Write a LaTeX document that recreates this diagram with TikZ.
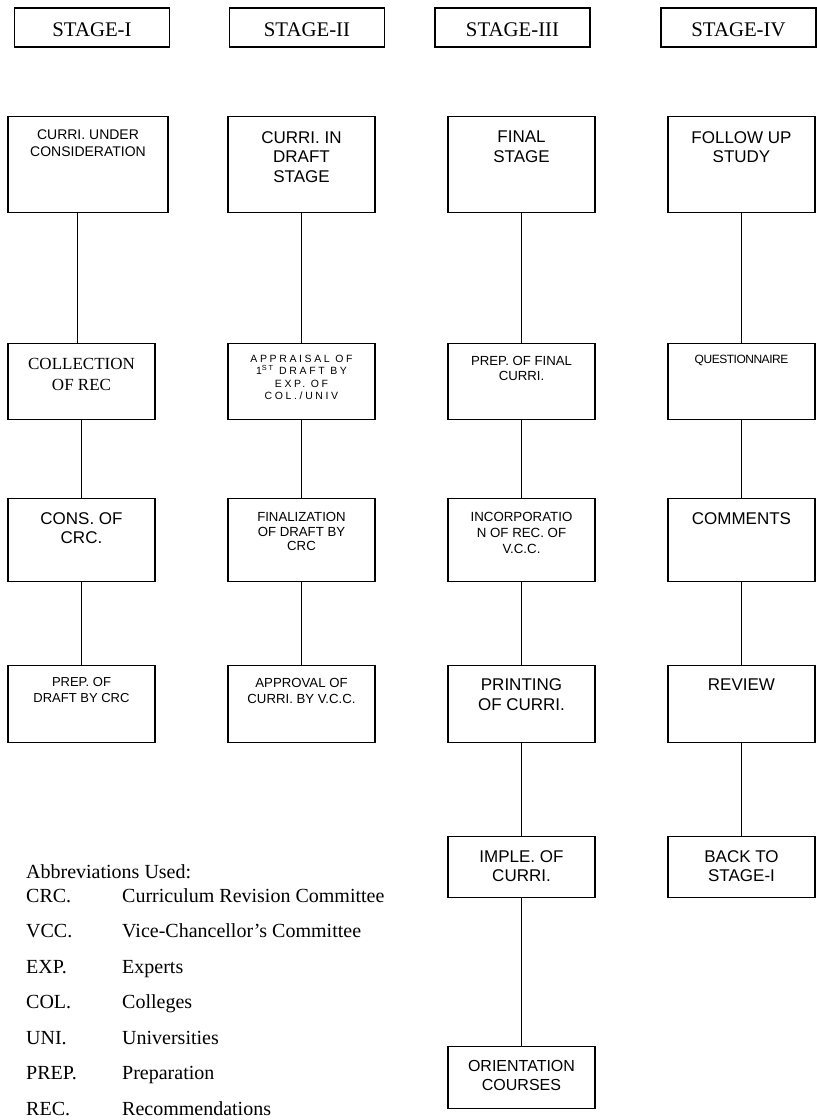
\documentclass[tikz,border=0pt]{standalone}
\usepackage{fontspec}
\setmainfont{Liberation Serif}
\setsansfont{Liberation Sans}
\usetikzlibrary{positioning}

\newcommand{\boxfont}[2]{\sffamily\fontsize{#1}{#2}\selectfont}

\tikzset{
  stage/.style={draw, line width=1.2pt, minimum width=155pt, minimum height=39pt,
    inner sep=0pt, text height=17pt, text depth=0pt, font=\fontsize{20.8}{23}\selectfont},
  box/.style={draw, line width=1.2pt, minimum width=147pt, inner sep=0pt, anchor=north},
  txt/.style={inner sep=0pt, align=center},
  link/.style={line width=1pt},
  abbr/.style={inner sep=0pt, anchor=base west, font=\fontsize{20}{24}\selectfont}
}

\begin{document}
\begin{tikzpicture}[x=1pt, y=-1pt]
    \useasboundingbox (0,0) rectangle (817,1120);

    % Stage headings
    \foreach \x/\n [count=\i] in {92/I, 307/II, 512.5/III, 738.5/IV}
        \node[stage] (stg\i) at (\x,27.5) {STAGE-\n};

    % Stage I column
    \node[box, minimum width=160pt, minimum height=96pt] (a1) at (88,116) {};
    \node[box, minimum height=76pt] (a2) at (81.5,343) {};
    \node[box, minimum height=83pt] (a3) at (81.5,498) {};
    \node[box, minimum height=77pt] (a4) at (81.5,665) {};
    \node[txt, font=\boxfont{14}{17}, below=14pt of a1.north] (a1t) {CURRI. UNDER\\CONSIDERATION};
    \node[txt, font=\rmfamily\fontsize{17}{21}\selectfont, below=14.7pt of a2.north] (a2t) {COLLECTION\\OF REC};
    \node[txt, font=\boxfont{17}{18.5}, below=14.8pt of a3.north] (a3t) {CONS. OF\\CRC.};
    \node[txt, font=\boxfont{13}{16}, below=12.6pt of a4.north] (a4t) {PREP. OF\\DRAFT BY CRC};

    % Stage II column
    \node[box, minimum height=96pt] (b1) at (301.5,116) {};
    \node[box, minimum height=76pt] (b2) at (301.5,343) {};
    \node[box, minimum height=83pt] (b3) at (301.5,498) {};
    \node[box, minimum height=77pt] (b4) at (301.5,665) {};
    \node[txt, font=\boxfont{17}{19.5}, below=15pt of b1.north] (b1t) {CURRI. IN\\DRAFT\\STAGE};
    \node[txt, font=\boxfont{10.5}{12.5}\addfontfeatures{LetterSpace=25}, below=11.5pt of b2.north] (b2t)
        {APPRAISAL OF\\1\textsuperscript{ST} DRAFT BY\\EXP. OF\\COL./UNIV};
    \node[txt, font=\boxfont{13.2}{14.5}, below=14.5pt of b3.north] (b3t) {FINALIZATION\\OF DRAFT BY\\CRC};
    \node[txt, font=\boxfont{13.2}{16}, below=12.6pt of b4.north] (b4t) {APPROVAL OF\\CURRI. BY V.C.C.};

    % Stage III column
    \node[box, minimum height=96pt] (c1) at (521.5,116) {};
    \node[box, minimum height=76pt] (c2) at (521.5,343) {};
    \node[box, minimum height=83pt] (c3) at (521.5,498) {};
    \node[box, minimum height=77pt] (c4) at (521.5,665) {};
    \node[box, minimum height=61pt] (c5) at (521.5,836) {};
    \node[box, minimum height=62pt] (c6) at (521.5,1046) {};
    \node[txt, font=\boxfont{17}{19.5}, below=15pt of c1.north] (c1t) {FINAL\\STAGE};
    \node[txt, font=\boxfont{13.2}{15}, below=12.7pt of c2.north] (c2t) {PREP. OF FINAL\\CURRI.};
    \node[txt, font=\boxfont{13.3}{16}, below=13.7pt of c3.north] (c3t) {INCORPORATIO\\N OF REC. OF\\V.C.C.};
    \node[txt, font=\boxfont{17}{20}, below=13.8pt of c4.north] (c4t) {PRINTING\\OF CURRI.};
    \node[txt, font=\boxfont{17}{19}, below=14.8pt of c5.north] (c5t) {IMPLE. OF\\CURRI.};
    \node[txt, font=\boxfont{16}{19}, below=14.5pt of c6.north] (c6t) {ORIENTATION\\COURSES};

    % Stage IV column
    \node[box, minimum height=96pt] (d1) at (741.5,116) {};
    \node[box, minimum height=76pt] (d2) at (741.5,343) {};
    \node[box, minimum height=83pt] (d3) at (741.5,498) {};
    \node[box, minimum height=77pt] (d4) at (741.5,665) {};
    \node[box, minimum height=61pt] (d5) at (741.5,836) {};
    \node[txt, font=\boxfont{17}{19.5}, below=15pt of d1.north] (d1t) {FOLLOW UP\\STUDY};
    \node[txt, font=\boxfont{12}{14}\addfontfeatures{LetterSpace=-4}, below=12.4pt of d2.north] (d2t) {QUESTIONNAIRE};
    \node[txt, font=\boxfont{17}{20}, below=14.8pt of d3.north] (d3t) {COMMENTS};
    \node[txt, font=\boxfont{17}{20}, below=13.8pt of d4.north] (d4t) {REVIEW};
    \node[txt, font=\boxfont{17}{19}, below=14.8pt of d5.north] (d5t) {BACK TO\\STAGE-I};

    % Connectors
    \coordinate (a12) at ([xshift=-4.5pt]a2.north);
    \draw[link] (a12) -- (a12 |- a1.south);
    \foreach \u/\v in {a2/a3, a3/a4, b1/b2, b2/b3, b3/b4, c1/c2, c2/c3, c3/c4, c4/c5, c5/c6,
                       d1/d2, d2/d3, d3/d4, d4/d5}
        \draw[link] (\u.south) -- (\v.north);

    % Abbreviations
    \node[abbr] (abhd) at (26,878) {Abbreviations Used:};
    \foreach \k/\v [count=\i] in {CRC./Curriculum Revision Committee, VCC./Vice-Chancellor’s Committee,
                                  EXP./Experts, COL./Colleges, UNI./Universities,
                                  PREP./Preparation, REC./Recommendations} {
        \node[abbr] (abk\i) at (26,{902+35.5*(\i-1)}) {\k};
        \node[abbr] (abv\i) at (122,{902+35.5*(\i-1)}) {\v};
    }
\end{tikzpicture}
\end{document}
